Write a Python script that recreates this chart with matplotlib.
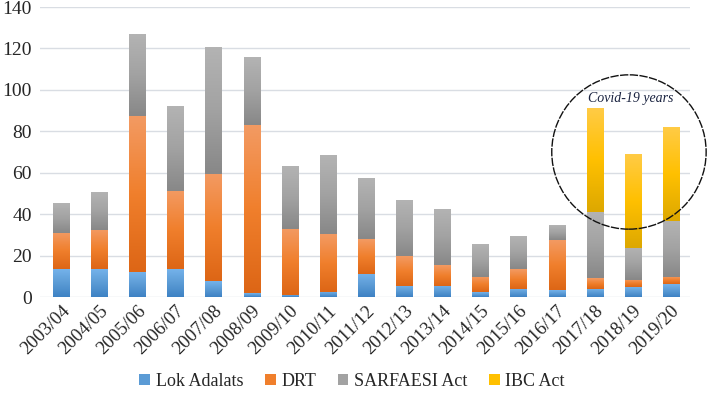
import matplotlib.pyplot as plt
import numpy as np
from matplotlib.patches import Ellipse
from matplotlib.colors import LinearSegmentedColormap

years = ["2003/04", "2004/05", "2005/06", "2006/07", "2007/08", "2008/09",
         "2009/10", "2010/11", "2011/12", "2012/13", "2013/14", "2014/15",
         "2015/16", "2016/17", "2017/18", "2018/19", "2019/20"]

# segment heights
lok_adalats = [13.5, 13.5, 12.0, 13.5, 7.5, 1.8, 1.0, 2.6, 11.2, 5.5, 5.5, 2.4, 3.9, 3.2, 3.9, 4.7, 6.1]
drt = [17.5, 18.9, 75.2, 37.9, 52.0, 81.0, 32.0, 27.7, 16.7, 14.4, 10.1, 7.4, 9.6, 24.1, 5.2, 3.6, 3.7]
sarfaesi = [14.4, 18.2, 39.3, 40.7, 61.2, 32.8, 30.0, 37.7, 29.2, 27.0, 26.9, 15.9, 15.9, 7.2, 32.0, 15.5, 27.0]
ibc = [0, 0, 0, 0, 0, 0, 0, 0, 0, 0, 0, 0, 0, 0, 49.8, 45.2, 45.2]

# (light top, base, dark bottom) like the Excel gradient fill
series = [
    ("Lok Adalats", lok_adalats, ("#74B2EA", "#5B9BD5", "#3E82C4")),
    ("DRT", drt, ("#F39A62", "#F07F2C", "#DD6616")),
    ("SARFAESI Act", sarfaesi, ("#B3B3B3", "#A2A2A2", "#888888")),
    ("IBC Act", ibc, ("#FFCB45", "#FFC000", "#DDA800")),
]

plt.rcParams["font.family"] = ["Liberation Serif", "DejaVu Serif"]

fig = plt.figure(figsize=(7.08, 4.0), dpi=100)
ax = fig.add_axes([0.0565, 0.2575, 0.918, 0.725])

x = np.arange(len(years))
w = 0.42
grad = np.linspace(0, 1, 64).reshape(-1, 1)
bottom = np.zeros(len(years))
for name, vals, cols in series:
    vals = np.array(vals)
    ax.bar(x, vals, w, bottom=bottom, color=cols[1], label=name, zorder=3)
    cmap = LinearSegmentedColormap.from_list(name, [cols[2], cols[1], cols[0]])
    for xi, b, v in zip(x, bottom, vals):
        if v > 0:
            ax.imshow(grad, extent=[xi - w / 2, xi + w / 2, b, b + v], origin="lower",
                      aspect="auto", cmap=cmap, zorder=3.1, interpolation="bilinear")
    bottom += vals

ax.set_xlim(-0.55, 16.5)
ax.set_ylim(0, 140)
ax.set_yticks(range(0, 141, 20))
ax.yaxis.grid(True, color="#D9DDE3", linewidth=1, zorder=0)
for s in ax.spines.values():
    s.set_visible(False)
ax.tick_params(axis="both", length=0, labelsize=14, colors="#262626", pad=6)
ax.set_xticks(x)
ax.set_xticklabels(years, rotation=45, ha="right", rotation_mode="anchor")
ax.tick_params(axis="x", labelsize=13.5, pad=4)

# covid circle + note
circ = Ellipse((14.9, 70), 4.05, 74.5, fill=False, edgecolor="#111111",
               linewidth=1.0, linestyle=(0, (6, 1)), clip_on=False, zorder=4)
ax.add_patch(circ)
ax.text(14.95, 96, "Covid-19 years", ha="center", va="center", color="#1A2340",
        fontsize=10, style="italic", zorder=5)

ax.legend(loc="center", bbox_to_anchor=(0.48, -0.29), ncol=4, frameon=False,
          prop={"family": "Liberation Serif", "size": 13}, labelcolor="#262626",
          handlelength=0.6, handleheight=0.6, handletextpad=0.3, columnspacing=1.2)

plt.savefig("out.png", dpi=100)
